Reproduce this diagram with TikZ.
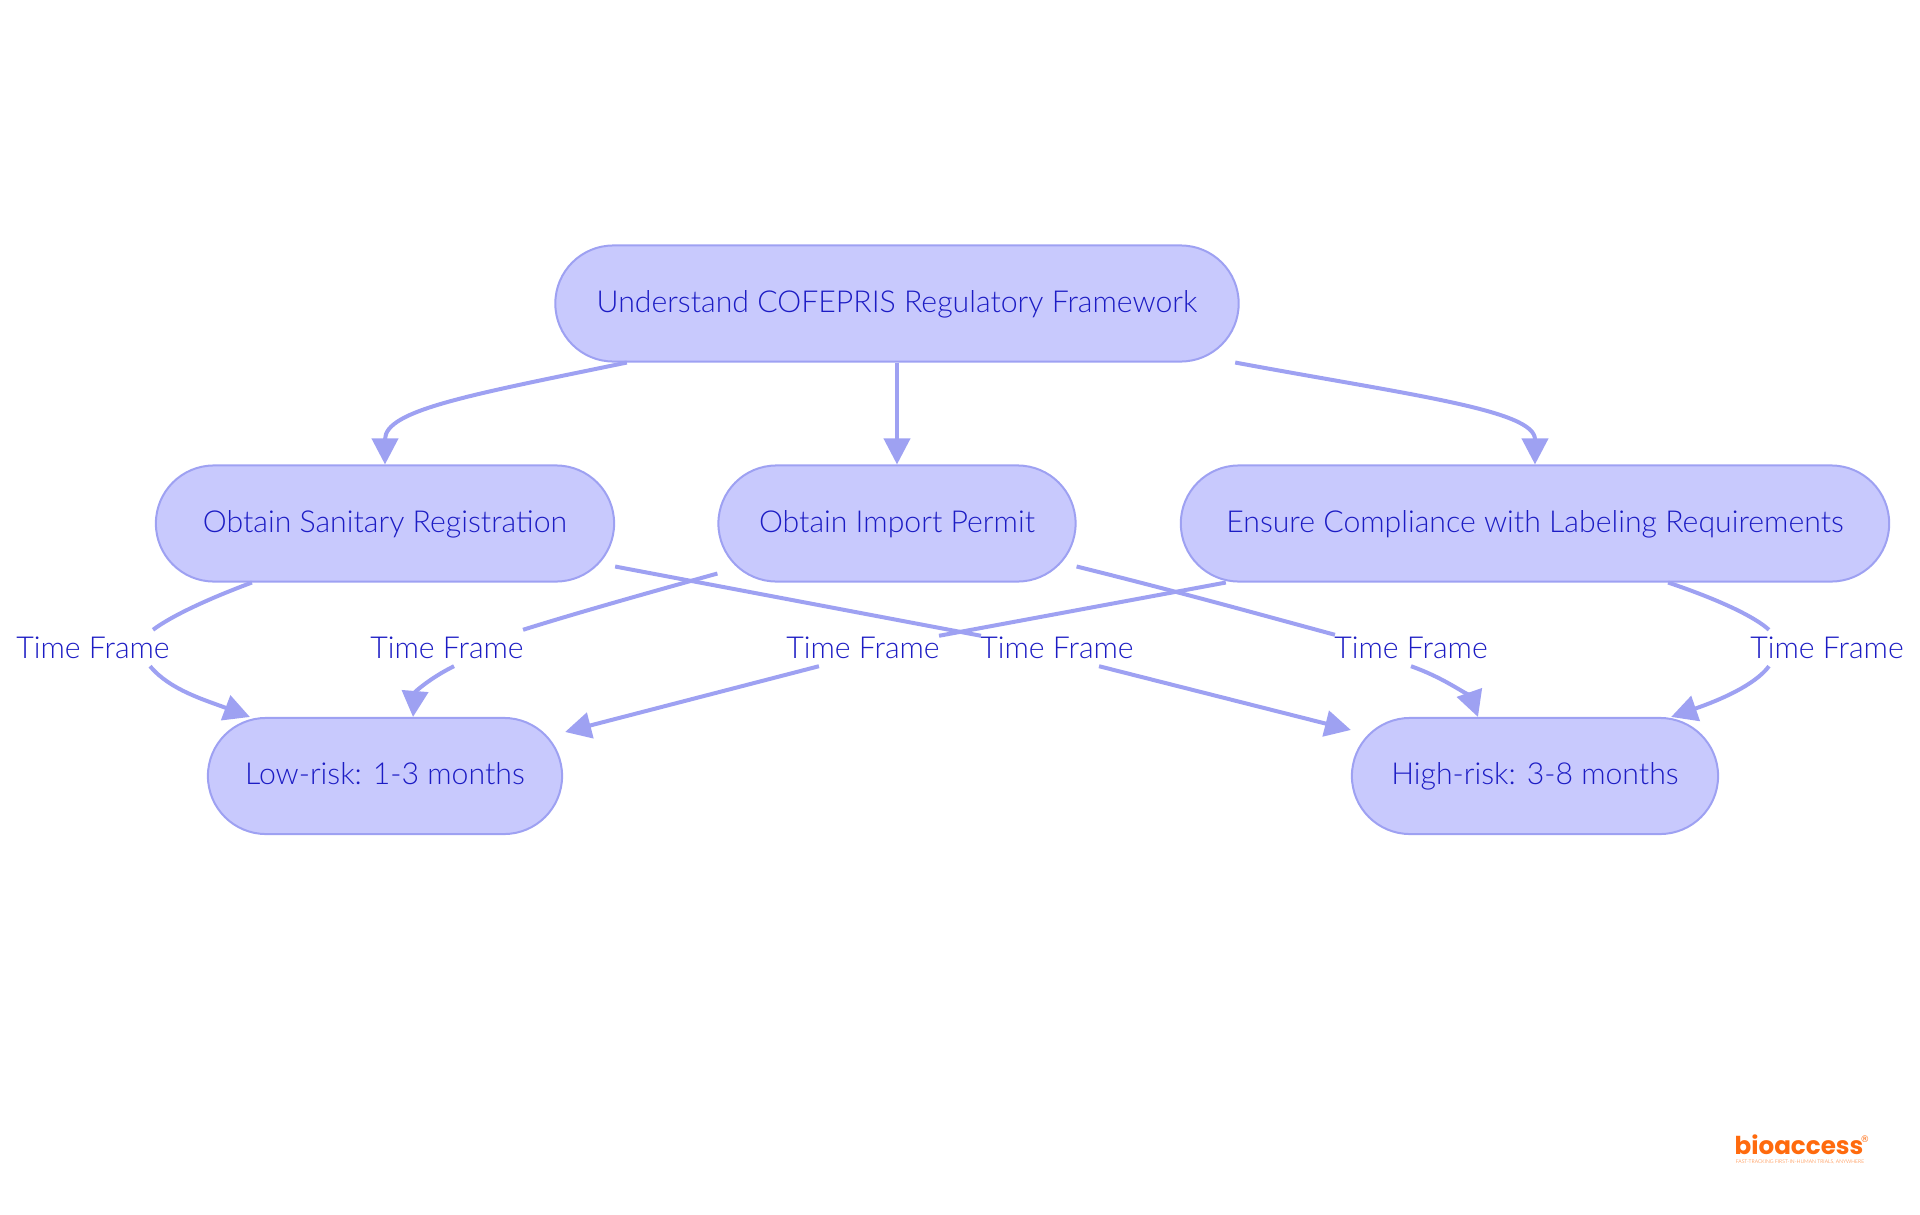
\documentclass[tikz,border=0pt]{standalone}
\usepackage{fontspec}
\setmainfont{Lato Light}
\newfontfamily\logofont{Poppins}[UprightFont=* Bold]
\newfontfamily\markfont{DejaVu Sans}
\usepackage{xcolor}
\usetikzlibrary{arrows.meta}
\definecolor{boxfill}{HTML}{C8C9FD}
\definecolor{boxline}{HTML}{9EA1F2}
\definecolor{boxtext}{HTML}{1C1CC4}
\definecolor{logotext}{HTML}{FF6A0D}

\begin{document}
\begin{tikzpicture}[
            x = 0.01cm, y = -0.01cm, % one unit is one reference pixel
            > = {Triangle[length=0.26cm,width=0.26cm]}, % arrow head style
            step box/.style = {shape=rectangle,draw=boxline,fill=boxfill,text=boxtext,
                line width=0.02cm,rounded corners=0.58cm,minimum height=1.16cm,
                inner sep=0pt,text height=0.22cm,text depth=0.05cm,
                font=\fontsize{8.6pt}{11pt}\selectfont},
            time label/.style = {fill=white,text=boxtext,inner sep=0pt,
                minimum width=1.54cm,minimum height=0.35cm,
                font=\fontsize{8.6pt}{11pt}\selectfont},
            link/.style = {draw=boxline,line width=0.04cm}
        ]
\useasboundingbox (0,0) rectangle (1920,1215);

\node[step box,minimum width=6.83cm] (root) at (897,303.5) {Understand COFEPRIS Regulatory Framework};

\node[step box,minimum width=4.58cm] (sanitary) at (385,523.5) {Obtain Sanitary Registration};
\node[step box,minimum width=3.57cm] (permit) at (897,523.5) {Obtain Import Permit};
\node[step box,minimum width=7.08cm] (labeling) at (1535,523.5) {Ensure Compliance with Labeling Requirements};

\node[step box,minimum width=3.54cm] (low) at (385,776) {Low-risk: 1-3 months};
\node[step box,minimum width=3.66cm] (high) at (1535,776) {High-risk: 3-8 months};

\node[time label] (time1) at (93,648) {Time Frame};
\node[time label] (time2) at (447,648) {Time Frame};
\node[time label] (time3) at (863,648) {Time Frame};
\node[time label] (time4) at (1057,648) {Time Frame};
\node[time label] (time5) at (1411,648) {Time Frame};
\node[time label] (time6) at (1827,648) {Time Frame};

\path [link,->] ([xshift=-2.70cm]root.south) .. controls (470,395) and (385,410) .. (sanitary.north);
\path [link,->] (root.south) -- (permit.north);
\path [link,->] ([xshift=3.38cm]root.south) .. controls (1410,395) and (1535,410) .. (labeling.north);

\path [link] ([xshift=-1.33cm]sanitary.south) .. controls (205,600) and (170,617) .. ([xshift=0.60cm]time1.north);
\path [link,->] ([xshift=0.57cm]time1.south) .. controls (170,690) and (205,700) .. ([xshift=-1.35cm]low.north);
\path [link] ([yshift=-0.50cm]permit.west) .. controls (640,595) and (570,615) .. ([xshift=0.76cm]time2.north);
\path [link,->] ([xshift=0.07cm]time2.south) .. controls (430,678) and (415,692) .. ([xshift=0.28cm]low.north);
\path [link] ([xshift=-3.09cm]labeling.south) -- ([xshift=0.76cm,yshift=-0.06cm]time3.north);
\path [link,->] ([xshift=-0.44cm]time3.south) -- ([xshift=0.02cm,yshift=0.44cm]low.east);
\path [link] ([yshift=-0.43cm]sanitary.east) -- ([xshift=-0.76cm,yshift=-0.06cm]time4.north);
\path [link,->] ([xshift=0.42cm]time4.south) -- ([yshift=0.46cm]high.west);
\path [link] ([yshift=-0.43cm]permit.east) .. controls (1180,592) and (1280,620) .. ([xshift=-0.76cm,yshift=-0.05cm]time5.north);
\path [link,->] (time5.south) .. controls (1450,680) and (1472,700) .. ([xshift=-0.57cm]high.north);
\path [link] ([xshift=1.33cm]labeling.south) .. controls (1720,600) and (1755,617) .. ([xshift=-0.58cm]time6.north);
\path [link,->] ([xshift=-0.58cm]time6.south) .. controls (1755,685) and (1720,700) .. ([xshift=1.36cm]high.north);

\node[text=logotext,inner sep=0pt,font=\logofont\fontsize{7pt}{9pt}\selectfont] (logo) at (1799,1145) {bioaccess};
\node[text=logotext,inner sep=0pt,font=\fontsize{1.45pt}{2pt}\selectfont] (tagline) at (1800,1162) {FAST-TRACKING FIRST-IN-HUMAN TRIALS, ANYWHERE};
\node[text=logotext,inner sep=0pt,font=\markfont\fontsize{2.6pt}{3pt}\selectfont] (mark) at (1865,1139) {®};
\end{tikzpicture}
\end{document}
